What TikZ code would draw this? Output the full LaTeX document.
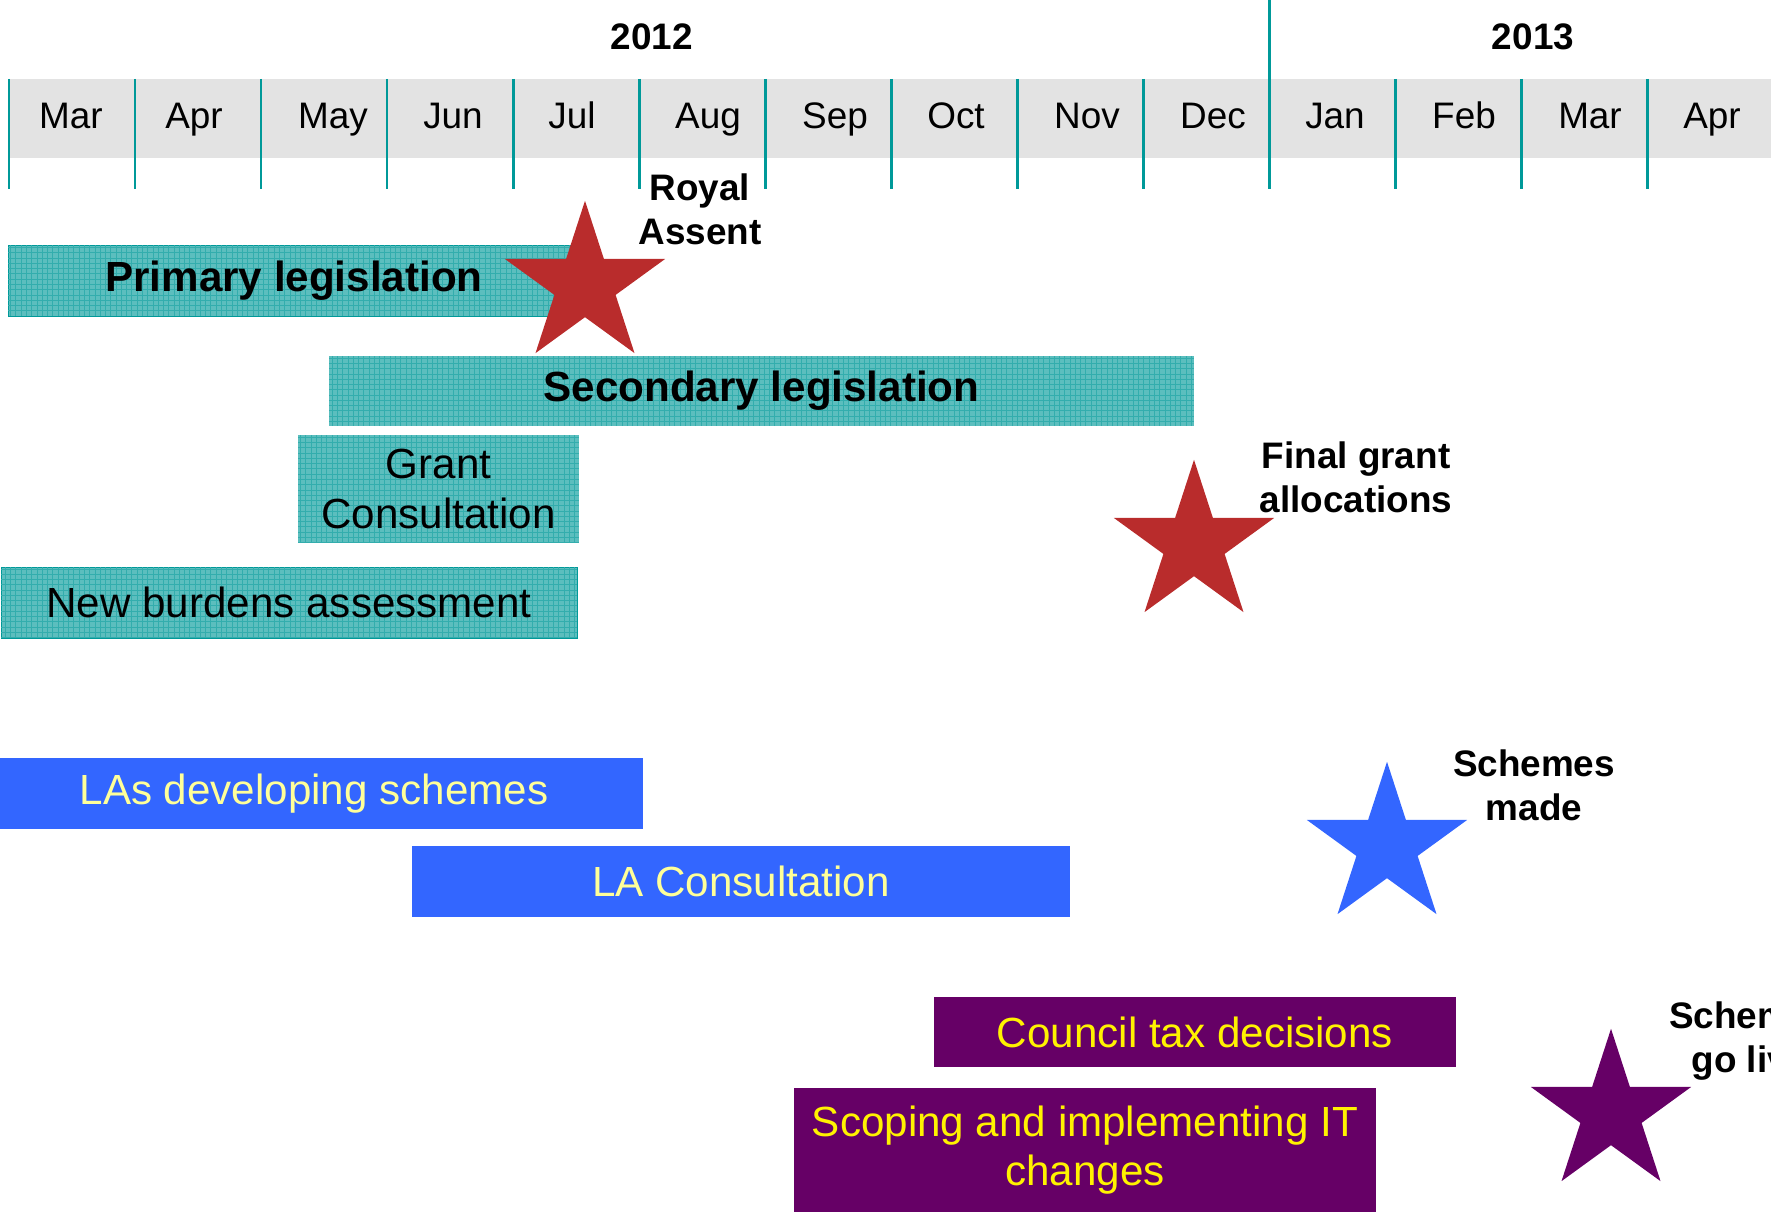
\documentclass[tikz,border=0pt]{standalone}
\usepackage{fontspec}
\setmainfont{Liberation Sans}
\usetikzlibrary{shapes.geometric, patterns}
\definecolor{tealline}{RGB}{0,153,153}
\definecolor{tealfill}{RGB}{92,190,190}
\definecolor{bandgray}{RGB}{227,227,227}
\definecolor{starred}{RGB}{185,44,44}
\definecolor{lablue}{RGB}{51,102,255}
\definecolor{ctpurple}{RGB}{102,0,102}
\definecolor{paleyellow}{RGB}{255,255,153}

\begin{document}
\begin{tikzpicture}[x=0.02cm, y=-0.02cm,
    month/.style={font=\fontsize{21}{25}\selectfont, anchor=base},
    year/.style={font=\fontsize{21}{25}\selectfont\bfseries},
    tick/.style={tealline, line width=1.7pt},
    bar/.style={inner sep=0pt, outer sep=0pt, align=center, font=\fontsize{24}{28}\selectfont},
    tealbar/.style={bar, fill=tealfill, postaction={pattern=grid, pattern color=tealline!80}},
    bluebar/.style={bar, fill=lablue, text=paleyellow},
    purplebar/.style={bar, fill=ctpurple, text=yellow},
    milestone/.style={star, star points=5, star point ratio=2.618, minimum size=3.37cm, inner sep=0pt},
    note/.style={font=\fontsize{21}{25}\selectfont\bfseries, align=center}]
    \useasboundingbox (0,0) rectangle (1771,1212);
    \clip (0,0) rectangle (1771,1212);

    % month band
    \fill[bandgray] (9,79) rectangle (1771,158);
    \foreach \i in {0,...,13}
        \draw[tick] (9+126*\i,79) -- (9+126*\i,189);
    \draw[tick] (1269,0) -- (1269,79);
    \foreach \x/\m [count=\k] in {71/Mar, 194/Apr, 333/May, 453/Jun, 572/Jul, 708/Aug, 835/Sep,
        956/Oct, 1087/Nov, 1213/Dec, 1335/Jan, 1464/Feb, 1590/Mar, 1712/Apr}
        \node[month] (mon\k) at (\x,129) {\m};
    \node[year] (y2012) at (652,37) {2012};
    \node[year] (y2013) at (1533,37) {2013};

    % legislation
    \node[tealbar, draw=tealline, minimum width=11.44cm, minimum height=1.42cm] (primary) at (294,280.5) {\bfseries Primary legislation};
    \node[milestone, fill=starred] (assent) at (585,285) {};
    \node[note] (assentlbl) at (700,209) {Royal\\Assent};
    \node[tealbar, minimum width=17.3cm, minimum height=1.4cm] (secondary) at (761.5,391) {\bfseries Secondary legislation};
    \node[tealbar, minimum width=5.62cm, minimum height=2.16cm] (grant) at (438.5,489) {Grant\\Consultation};
    \node[tealbar, draw=tealline, minimum width=11.52cm, minimum height=1.42cm] (burdens) at (289,602.5) {New burdens assessment};
    \node[milestone, fill=starred] (final) at (1194,544) {};
    \node[note] (finallbl) at (1356,477) {Final grant\\allocations};

    % schemes
    \node[bluebar, minimum width=12.86cm, minimum height=1.42cm] (develop) at (321.5,793.5) {LAs developing schemes\hspace{0.3cm}};
    \node[bluebar, minimum width=13.16cm, minimum height=1.42cm] (lacons) at (741,881.5) {LA Consultation};
    \node[milestone, fill=lablue] (made) at (1387,846) {};
    \node[note] (madelbl) at (1534,785) {Schemes\\made};

    % go live
    \node[purplebar, minimum width=10.44cm, minimum height=1.4cm] (ctax) at (1195,1032) {Council tax decisions};
    \node[purplebar, minimum width=11.64cm, minimum height=2.48cm] (scoping) at (1085,1150) {Scoping and implementing IT\\changes};
    \node[milestone, fill=ctpurple] (live) at (1611,1113) {};
    \node[note] (livelbl) at (1750,1041) {Schemes\\go live};
\end{tikzpicture}
\end{document}
